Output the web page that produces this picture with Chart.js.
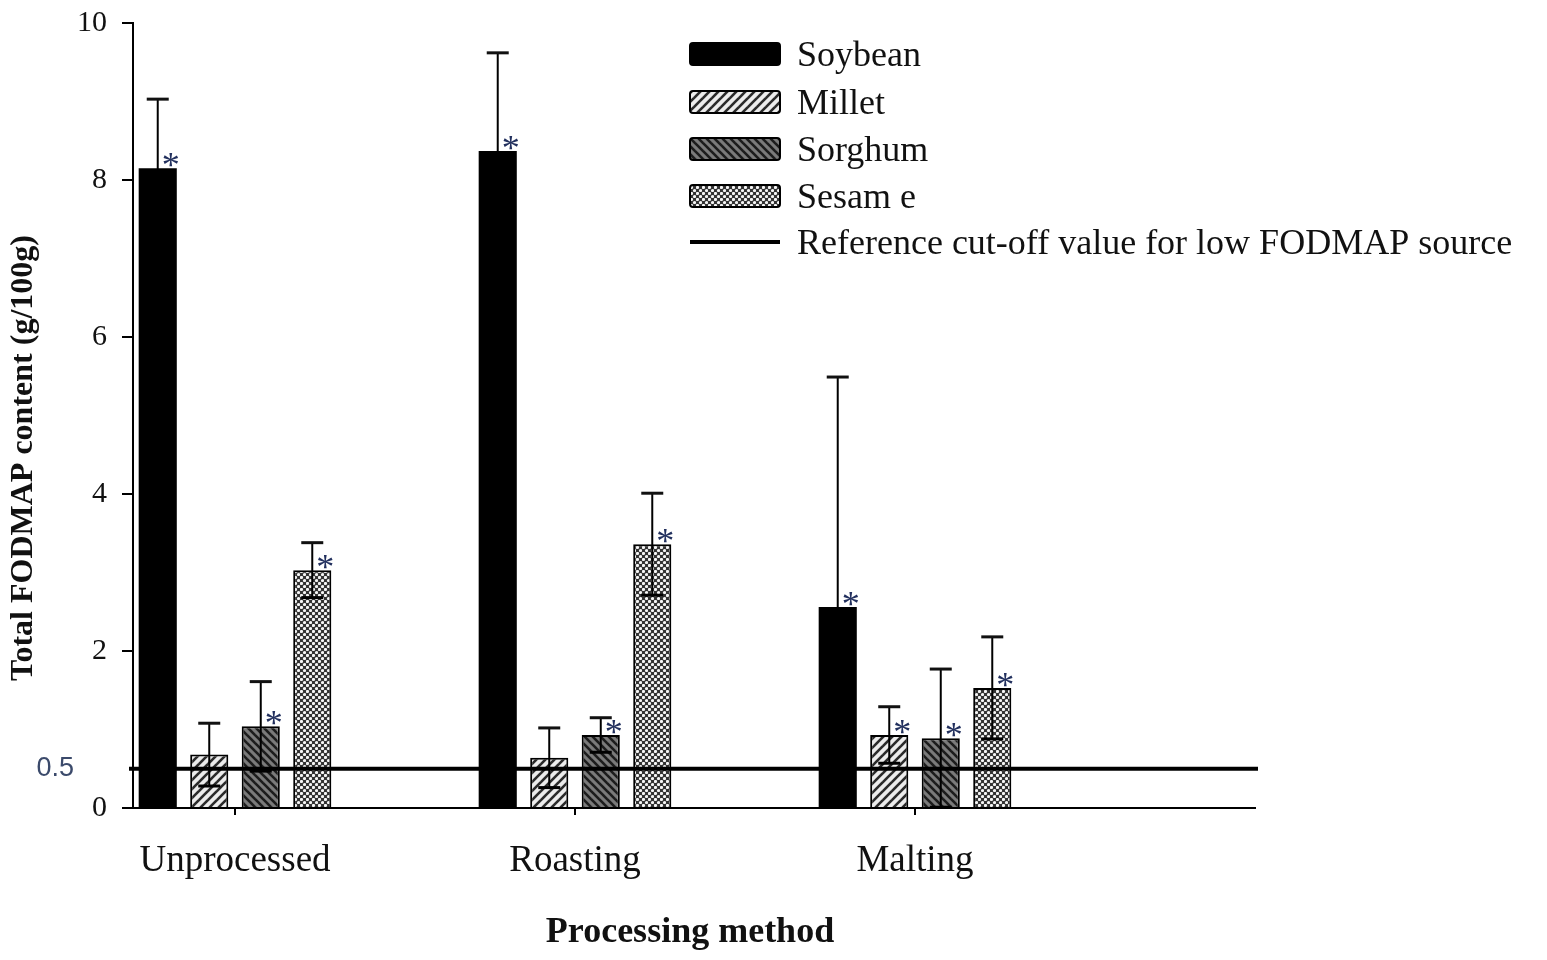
<!DOCTYPE html>
<html>
<head>
<meta charset="utf-8">
<script src="https://cdn.jsdelivr.net/npm/chart.js@4.4.1/dist/chart.umd.min.js"></script>
<style>
html,body{margin:0;padding:0;background:#fff;}
#wrap{width:1547px;height:960px;position:relative;}
</style>
</head>
<body>
<div id="wrap"><canvas id="c"></canvas></div>
<script>
// ---------- DATA ----------
const categories = ['Unprocessed', 'Roasting', 'Malting'];
const seriesNames = ['Soybean', 'Millet', 'Sorghum', 'Sesam e'];
const soybean = [8.15, 8.37, 2.56];
const millet  = [0.68, 0.64, 0.93];
const sorghum = [1.04, 0.93, 0.89];
const sesame  = [3.03, 3.36, 1.53];
const soybeanSD = [0.88, 1.25, 2.93];
const milletSD  = [0.40, 0.38, 0.36];
const sorghumSD = [0.57, 0.22, 0.88];
const sesameSD  = [0.35, 0.65, 0.65];
const soybeanSig = [true, true, true];
const milletSig  = [false, false, true];
const sorghumSig = [true, true, true];
const sesameSig  = [true, true, true];
const cutoffValue = 0.5;
const cutoffLabel = 'Reference cut-off value for low FODMAP source';
const yTicks = [0, 2, 4, 6, 8, 10];
const yTitle = 'Total FODMAP content (g/100g)';
const xTitle = 'Processing method';

// ---------- STYLE ----------
const SERIF = "'Liberation Serif', 'Times New Roman', serif";
const SANS = "'Liberation Sans', Arial, sans-serif";

function makePattern(kind) {
  const c = document.createElement('canvas');
  let s;
  if (kind === 'millet') {
    s = 9; c.width = s; c.height = s;
    const g = c.getContext('2d');
    g.fillStyle = '#ececec'; g.fillRect(0, 0, s, s);
    g.strokeStyle = '#2a2a2a'; g.lineWidth = 2.6;
    g.beginPath(); g.moveTo(-1, s + 1); g.lineTo(s + 1, -1); g.stroke();
    g.beginPath(); g.moveTo(-1, 1); g.lineTo(1, -1); g.stroke();
    g.beginPath(); g.moveTo(s - 1, s + 1); g.lineTo(s + 1, s - 1); g.stroke();
  } else if (kind === 'sorghum') {
    s = 8; c.width = s; c.height = s;
    const g = c.getContext('2d');
    g.fillStyle = '#7a7a7a'; g.fillRect(0, 0, s, s);
    g.strokeStyle = '#1c1c1c'; g.lineWidth = 2.6;
    g.beginPath(); g.moveTo(-1, -1); g.lineTo(s + 1, s + 1); g.stroke();
    g.beginPath(); g.moveTo(-1, s - 1); g.lineTo(1, s + 1); g.stroke();
    g.beginPath(); g.moveTo(s - 1, -1); g.lineTo(s + 1, 1); g.stroke();
  } else {
    s = 6; c.width = s; c.height = s;
    const g = c.getContext('2d');
    g.fillStyle = '#333333'; g.fillRect(0, 0, s, s);
    g.fillStyle = '#f6f6f6';
    [[1.5, 1.5], [4.5, 4.5]].forEach(p => { g.beginPath(); g.arc(p[0], p[1], 1.6, 0, Math.PI * 2); g.fill(); });
  }
  return c.getContext('2d').createPattern(c, 'repeat');
}

const fills = ['#000000', makePattern('millet'), makePattern('sorghum'), makePattern('sesame')];
const seriesValues = [soybean, millet, sorghum, sesame];
const seriesSD = [soybeanSD, milletSD, sorghumSD, sesameSD];
const seriesSig = [soybeanSig, milletSig, sorghumSig, sesameSig];

const datasets = seriesNames.map((name, k) => ({
  label: name,
  data: seriesValues[k].map((v, i) => ({ x: i + 1, y: v })),
  backgroundColor: fills[k],
  borderColor: '#000',
  borderWidth: k === 0 ? 0 : 2,
  categoryPercentage: 0.606,
  barPercentage: 0.74
}));

const overlay = {
  id: 'overlay',
  afterDatasetsDraw(chart) {
    const ctx = chart.ctx;
    const ys = chart.scales.y;
    const area = chart.chartArea;
    ctx.save();
    // error bars
    chart.data.datasets.forEach((ds, k) => {
      const meta = chart.getDatasetMeta(k);
      meta.data.forEach((el, i) => {
        const v = seriesValues[k][i], sd = seriesSD[k][i];
        const yT = ys.getPixelForValue(v + sd);
        const lowV = v - sd;
        const yB = ys.getPixelForValue(Math.max(0, lowV));
        ctx.strokeStyle = '#000';
        ctx.lineWidth = 2;
        ctx.beginPath(); ctx.moveTo(el.x, yB); ctx.lineTo(el.x, yT); ctx.stroke();
        ctx.strokeStyle = '#111';
        ctx.lineWidth = 3;
        ctx.beginPath(); ctx.moveTo(el.x - 11, yT); ctx.lineTo(el.x + 11, yT); ctx.stroke();
        if (lowV > 0) {
          ctx.strokeStyle = '#000';
          ctx.beginPath(); ctx.moveTo(el.x - 11, yB); ctx.lineTo(el.x + 11, yB); ctx.stroke();
        }
      });
    });
    // reference line
    const yc = ys.getPixelForValue(cutoffValue);
    ctx.strokeStyle = '#000';
    ctx.lineWidth = 4;
    ctx.beginPath(); ctx.moveTo(area.left - 4, yc); ctx.lineTo(area.right + 3, yc); ctx.stroke();
    ctx.fillStyle = '#3b4a6b';
    ctx.font = '27px ' + SANS;
    ctx.textAlign = 'right'; ctx.textBaseline = 'middle';
    ctx.fillText(String(cutoffValue), 74, yc);
    // asterisks
    ctx.fillStyle = '#22305e';
    ctx.font = '36px ' + SERIF;
    ctx.textAlign = 'center'; ctx.textBaseline = 'alphabetic';
    chart.data.datasets.forEach((ds, k) => {
      const meta = chart.getDatasetMeta(k);
      meta.data.forEach((el, i) => {
        if (seriesSig[k][i]) ctx.fillText('*', el.x + 13, el.y + 9);
      });
    });
    ctx.restore();
  },
  afterDraw(chart) {
    const ctx = chart.ctx;
    ctx.save();
    ctx.fillStyle = '#111';
    // y title
    ctx.font = 'bold 32px ' + SERIF;
    ctx.translate(24, 458);
    ctx.rotate(-Math.PI / 2);
    ctx.textAlign = 'center'; ctx.textBaseline = 'middle';
    ctx.fillText(yTitle, 0, 0);
    ctx.restore();
    ctx.save();
    ctx.fillStyle = '#111';
    ctx.font = 'bold 36px ' + SERIF;
    ctx.textAlign = 'center'; ctx.textBaseline = 'alphabetic';
    ctx.fillText(xTitle, 690, 942);
    // legend
    const lx = 690, lw = 90, lh = 22;
    const rows = [54, 102, 149, 196, 242];
    ctx.font = '36px ' + SERIF;
    ctx.textAlign = 'left';
    seriesNames.forEach((name, k) => {
      const cy = rows[k];
      ctx.beginPath();
      ctx.roundRect(lx, cy - lh / 2, lw, lh, 3);
      ctx.fillStyle = fills[k];
      ctx.fill();
      ctx.strokeStyle = '#000'; ctx.lineWidth = 2;
      ctx.stroke();
      ctx.fillStyle = '#111';
      ctx.fillText(name, 797, cy + 12);
    });
    const cy = rows[4];
    ctx.strokeStyle = '#000'; ctx.lineWidth = 4;
    ctx.beginPath(); ctx.moveTo(lx, cy); ctx.lineTo(lx + lw, cy); ctx.stroke();
    ctx.fillStyle = '#111';
    ctx.fillText(cutoffLabel, 797, cy + 12);
    ctx.restore();
  }
};

new Chart(document.getElementById('c'), {
  type: 'bar',
  data: { datasets },
  options: {
    responsive: true,
    maintainAspectRatio: false,
    animation: false,
    layout: { padding: { top: 23, right: 292, left: 0, bottom: 0 } },
    plugins: { legend: { display: false }, tooltip: { enabled: false } },
    scales: {
      x: {
        type: 'linear',
        min: 0.7, max: 4.0,
        offset: false,
        afterBuildTicks: s => { s.ticks = categories.map((c, i) => ({ value: i + 1 })); },
        ticks: {
          callback: v => categories[Math.round(v) - 1] || '',
          font: { family: SERIF, size: 37 },
          color: '#111',
          padding: 24,
          maxRotation: 0,
          autoSkip: false
        },
        grid: { display: true, drawOnChartArea: false, drawTicks: true, tickLength: 7, color: '#000', lineWidth: 2, offset: false },
        border: { display: true, color: '#000', width: 2 },
        afterFit: s => { s.height = 152; s.paddingLeft = 0; s.paddingRight = 0; }
      },
      y: {
        min: 0, max: 10,
        afterBuildTicks: s => { s.ticks = yTicks.map(v => ({ value: v })); },
        ticks: { font: { family: SERIF, size: 30 }, color: '#111', padding: 15 },
        grid: { display: true, drawOnChartArea: false, drawTicks: true, tickLength: 11, color: '#000', lineWidth: 2 },
        border: { display: true, color: '#000', width: 2 },
        afterFit: s => { s.width = 133; s.paddingTop = 0; s.paddingBottom = 0; }
      }
    }
  },
  plugins: [overlay]
});
</script>
</body>
</html>
